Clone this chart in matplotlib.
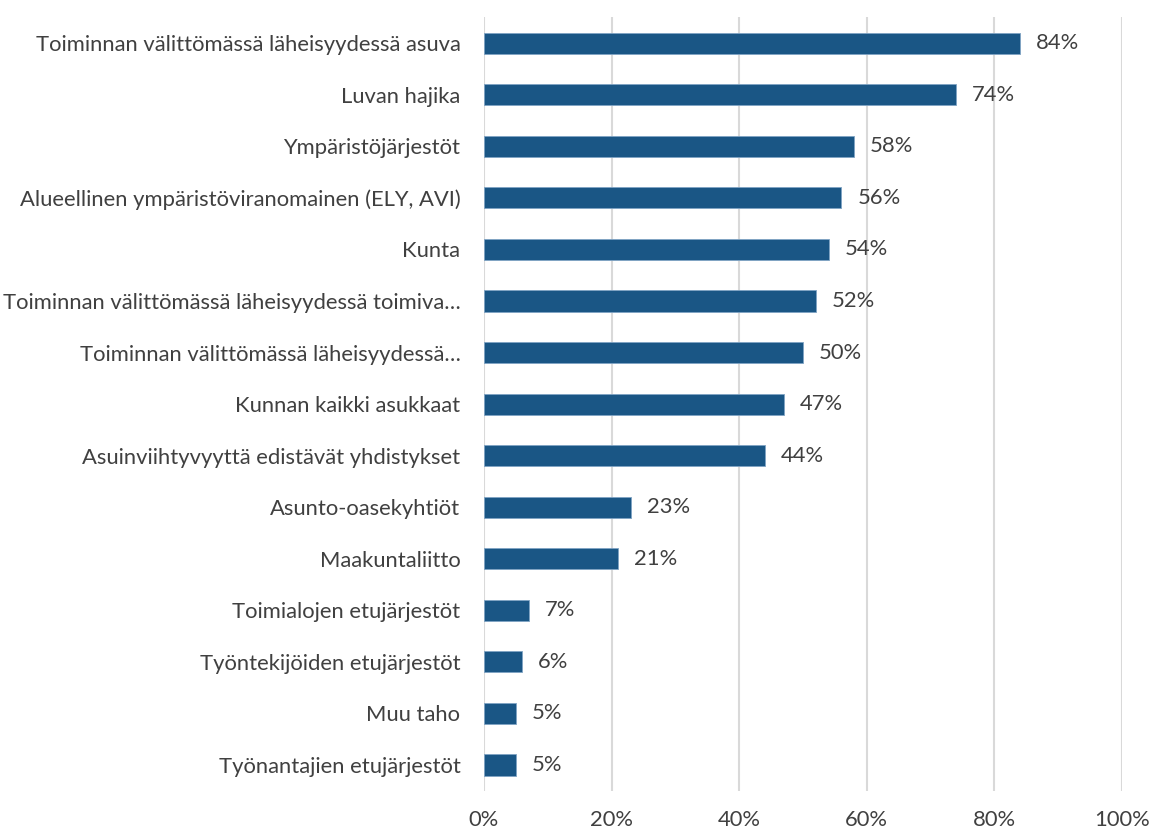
import matplotlib.pyplot as plt
import numpy as np

# categories top to bottom
categories = [
    'Toiminnan välittömässä läheisyydessä asuva',
    'Luvan hajika',
    'Ympäristöjärjestöt',
    'Alueellinen ympäristöviranomainen (ELY, AVI)',
    'Kunta',
    'Toiminnan välittömässä läheisyydessä toimiva…',
    'Toiminnan välittömässä läheisyydessä…',
    'Kunnan kaikki asukkaat',
    'Asuinviihtyvyyttä edistävät yhdistykset',
    'Asunto-oasekyhtiöt',
    'Maakuntaliitto',
    'Toimialojen etujärjestöt',
    'Työntekijöiden etujärjestöt',
    'Muu taho',
    'Työnantajien etujärjestöt',
]
values = [84, 74, 58, 56, 54, 52, 50, 47, 44, 23, 21, 7, 6, 5, 5]
xticks = [0, 20, 40, 60, 80, 100]

plt.rcParams['font.family'] = ['Lato', 'DejaVu Sans']
txt = '#404040'
fs = 15.8

fig = plt.figure(figsize=(11.51, 8.32), dpi=100)
ax = fig.add_axes([0.4205, 0.0495, 0.5543, 0.9295])

y = np.arange(len(categories))
ax.barh(y, values, height=0.41, color='#1A5685', edgecolor='#7FA3C4', linewidth=0.6, zorder=3)
for yi, v in zip(y, values):
    ax.text(v + 2.5, yi, f'{v}%', va='center', ha='left', fontsize=fs, color=txt)

ax.set_ylim(len(categories) - 0.5, -0.5)
ax.set_xlim(0, 100)
ax.set_yticks(y)
ax.set_yticklabels(categories, fontsize=fs, color=txt)
ax.set_xticks(xticks)
ax.set_xticklabels([f'{t}%' for t in xticks], fontsize=fs, color=txt)
ax.tick_params(axis='y', length=0, pad=17)
ax.tick_params(axis='x', length=0, pad=14)
ax.grid(axis='x', color='#D9D9D9', linewidth=1.5, zorder=0)
for s in ['top', 'right', 'bottom', 'left']:
    ax.spines[s].set_visible(False)

plt.savefig('out.png', dpi=100)
